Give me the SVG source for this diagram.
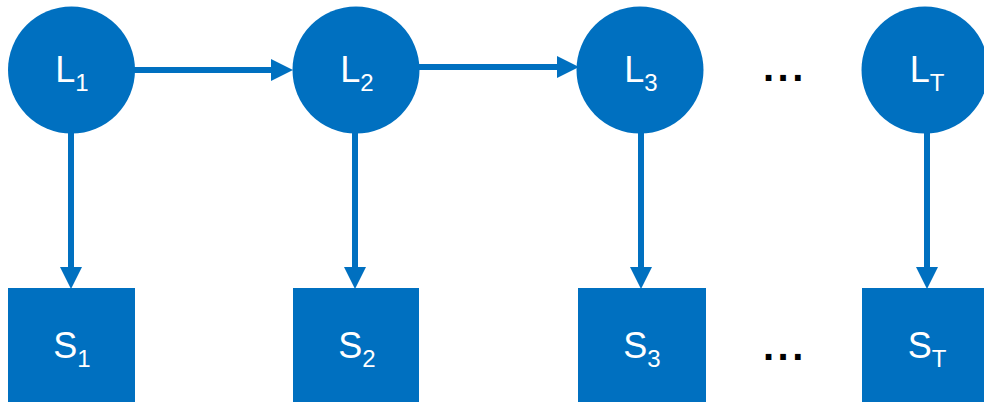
<svg xmlns="http://www.w3.org/2000/svg" width="984" height="403" viewBox="0 0 984 403">
<style>
.node{fill:#0070C0}
.lbl{font-family:"Liberation Sans",Arial,sans-serif;font-size:36px;fill:#fff;text-anchor:middle}
.sub{font-size:24px}
.dots{font-family:"Liberation Sans",Arial,sans-serif;font-size:40px;font-weight:bold;fill:#000;letter-spacing:3.5px}
.edge{stroke:#0070C0;stroke-width:6;fill:none}
</style>
<defs>
<marker id="ah" markerUnits="userSpaceOnUse" markerWidth="22" markerHeight="22" refX="0" refY="11" orient="auto" viewBox="0 0 22 22">
<path d="M0,0 L22,11 L0,22 z" fill="#0070C0"/>
</marker>
</defs>
<g id="connectors">
<line class="edge" x1="134" y1="70" x2="271" y2="70" marker-end="url(#ah)"/>
<line class="edge" x1="418" y1="67" x2="557" y2="67" marker-end="url(#ah)"/>
<line class="edge" x1="71" y1="132" x2="71" y2="267" marker-end="url(#ah)"/>
<line class="edge" x1="355" y1="132" x2="355" y2="267" marker-end="url(#ah)"/>
<line class="edge" x1="641" y1="132" x2="641" y2="267" marker-end="url(#ah)"/>
<line class="edge" x1="927" y1="132" x2="927" y2="267" marker-end="url(#ah)"/>
</g>
<g id="L1"><circle class="node" cx="71.5" cy="70" r="63.5"/><text class="lbl" x="72" y="82">L<tspan class="sub" dy="9">1</tspan></text></g>
<g id="L2"><circle class="node" cx="356" cy="70" r="63.5"/><text class="lbl" x="357" y="82">L<tspan class="sub" dy="9">2</tspan></text></g>
<g id="L3"><circle class="node" cx="640" cy="70" r="63.5"/><text class="lbl" x="641" y="82">L<tspan class="sub" dy="9">3</tspan></text></g>
<g id="LT"><circle class="node" cx="925" cy="70" r="63.5"/><text class="lbl" x="927" y="82">L<tspan class="sub" dy="9">T</tspan></text></g>
<g id="S1"><rect class="node" x="8" y="288" width="127" height="114"/><text class="lbl" x="72" y="358">S<tspan class="sub" dy="9">1</tspan></text></g>
<g id="S2"><rect class="node" x="293" y="288" width="126" height="114"/><text class="lbl" x="357" y="358">S<tspan class="sub" dy="9">2</tspan></text></g>
<g id="S3"><rect class="node" x="578" y="288" width="128" height="114"/><text class="lbl" x="642" y="358">S<tspan class="sub" dy="9">3</tspan></text></g>
<g id="ST"><rect class="node" x="862" y="288" width="128" height="114"/><text class="lbl" x="927" y="358">S<tspan class="sub" dy="9">T</tspan></text></g>
<g id="dots-top"><text class="dots" x="763" y="81">...</text></g>
<g id="dots-bottom"><text class="dots" x="763" y="360">...</text></g>
</svg>
